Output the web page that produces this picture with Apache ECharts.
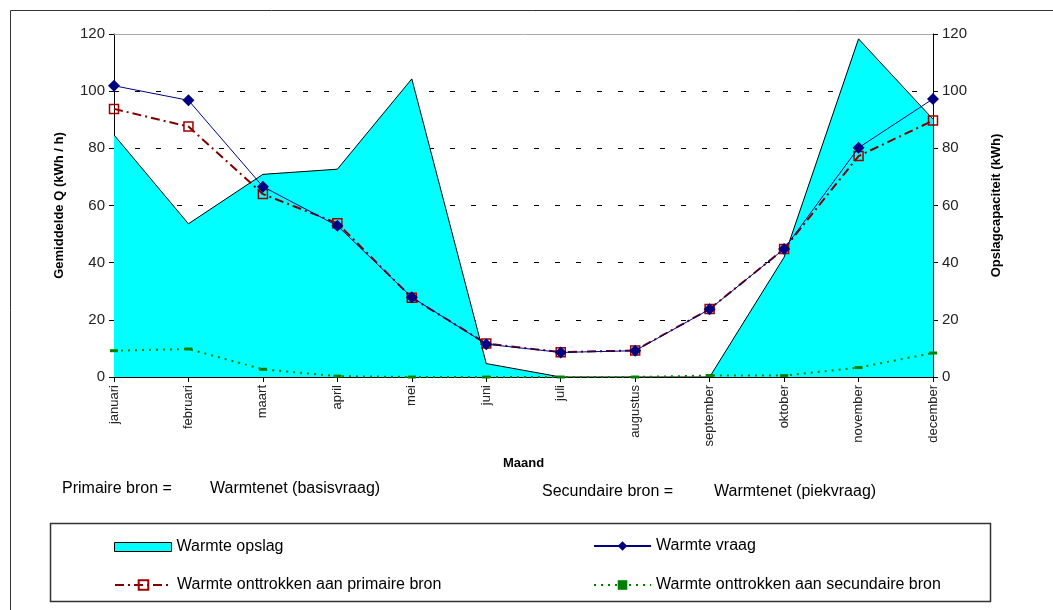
<!DOCTYPE html>
<html>
<head>
<meta charset="utf-8">
<script src="https://cdn.jsdelivr.net/npm/echarts@6/dist/echarts.min.js"></script>
<style>
  html, body { margin: 0; padding: 0; background: #fff; }
  #chart { width: 1053px; height: 610px; }
</style>
</head>
<body>
<div id="chart"></div>
<script>
// maanden op de x-as
const months = ['januari', 'februari', 'maart', 'april', 'mei', 'juni', 'juli',
  'augustus', 'september', 'oktober', 'november', 'december'];
// opslagcapaciteit (kWh), rechter as
const opslag = [84.7, 53.6, 70.9, 72.7, 104.3, 4.7, 0, 0, 0, 41.9, 118.3, 90.2];
// gemiddelde warmtevraag (kWh / h)
const vraag = [101.9, 96.8, 66.6, 52.9, 27.9, 11.5, 8.6, 9.2, 23.7, 44.8, 80.2, 97.3];
const primair = [93.8, 87.6, 64.0, 53.8, 27.7, 11.7, 8.7, 9.3, 23.8, 44.8, 77.3, 89.7];
const secundair = [9.2, 9.8, 2.7, 0.3, 0, 0, 0, 0, 0.5, 0.5, 3.3, 8.4];

const sans = '"Liberation Sans", Arial, sans-serif';

const chart = echarts.init(document.getElementById('chart'));

const valueAxis = (name, gap) => ({
  type: 'value',
  min: 0,
  max: 120,
  interval: 20,
  name: name,
  nameLocation: 'middle',
  nameGap: gap,
  nameTextStyle: { fontFamily: sans, fontWeight: 'bold', fontSize: 13, color: '#000' },
  axisLine: { show: true, lineStyle: { color: '#000', width: 1 } },
  axisTick: { show: true, length: 5, lineStyle: { color: '#000' } },
  axisLabel: { fontFamily: sans, fontSize: 15, color: '#222', margin: 9 },
  splitLine: { show: false },
});

const leftAxis = valueAxis('Gemiddelde Q (kWh / h)', 48);
leftAxis.splitLine = {
  show: true,
  lineStyle: {
    color: ['#000', '#000', '#000', '#000', '#000', '#000', '#999'],
    type: [5, 16],
    width: 1,
  },
};

const legendBase = {
  itemWidth: 57,
  itemGap: 0,
  textStyle: { fontFamily: sans, fontSize: 16, color: '#000' },
  selectedMode: false,
};

chart.setOption({
  animation: false,
  grid: { left: 114, right: 120, top: 34, bottom: 233 },
  xAxis: {
    type: 'category',
    data: months,
    boundaryGap: false,
    name: 'Maand',
    nameLocation: 'middle',
    nameGap: 80,
    nameTextStyle: { fontFamily: sans, fontWeight: 'bold', fontSize: 13, color: '#000' },
    axisLine: { lineStyle: { color: '#000', width: 1 } },
    axisTick: { show: true, length: 5, alignWithLabel: true, lineStyle: { color: '#000' } },
    axisLabel: { rotate: 90, fontFamily: sans, fontSize: 13, color: '#222', margin: 8, interval: 0 },
  },
  yAxis: [leftAxis, valueAxis('Opslagcapaciteit (kWh)', 57)],
  legend: [
    Object.assign({}, legendBase, {
      data: [{ name: 'Warmte opslag', icon: 'rect', itemStyle: { color: '#00ffff', borderColor: '#000', borderWidth: 1 } }],
      left: 109, top: 534, itemHeight: 9, itemWidth: 57,
    }),
    Object.assign({}, legendBase, { data: ['Warmte vraag'], left: 588, top: 533, itemHeight: 12 }),
    Object.assign({}, legendBase, { data: ['Warmte onttrokken aan primaire bron'], left: 109, top: 572, itemHeight: 12 }),
    Object.assign({}, legendBase, { data: ['Warmte onttrokken aan secundaire bron'], left: 588, top: 572, itemHeight: 12 }),
  ],
  graphic: [
    { type: 'rect', shape: { x: 10.5, y: 10.5, width: 1100, height: 700 }, style: { fill: 'none', stroke: '#333', lineWidth: 1 }, z: -1 },
    { type: 'rect', shape: { x: 50.5, y: 523.5, width: 940, height: 78 }, style: { fill: 'none', stroke: '#333', lineWidth: 1.5 } },
    { type: 'text', left: 62, top: 481, style: { text: 'Primaire bron =', font: '16px ' + sans, fill: '#000' } },
    { type: 'text', left: 210, top: 481, style: { text: 'Warmtenet (basisvraag)', font: '16px ' + sans, fill: '#000' } },
    { type: 'text', left: 542, top: 484, style: { text: 'Secundaire bron =', font: '16px ' + sans, fill: '#000' } },
    { type: 'text', left: 714, top: 484, style: { text: 'Warmtenet (piekvraag)', font: '16px ' + sans, fill: '#000' } },
  ],
  series: [
    {
      name: 'Warmte opslag',
      type: 'line',
      yAxisIndex: 1,
      data: opslag,
      symbol: 'none',
      lineStyle: { color: '#000', width: 1 },
      itemStyle: { color: '#00ffff', borderColor: '#000', borderWidth: 1 },
      areaStyle: { color: '#00ffff', opacity: 1 },
      markLine: {
        silent: true,
        symbol: 'none',
        label: { show: false },
        lineStyle: { color: '#aaa', type: 'solid', width: 1 },
        data: [{ yAxis: 120 }],
      },
      z: 1,
    },
    {
      name: 'Warmte onttrokken aan secundaire bron',
      type: 'line',
      data: secundair,
      symbol: 'rect',
      symbolSize: [8, 3],
      lineStyle: { color: '#008000', width: 2, type: [2, 5] },
      itemStyle: { color: '#008000' },
      z: 3,
    },
    {
      name: 'Warmte onttrokken aan primaire bron',
      type: 'line',
      data: primair,
      symbol: 'rect',
      symbolSize: 9,
      lineStyle: { color: '#800000', width: 2, type: [9, 4, 2, 4] },
      itemStyle: { color: 'rgba(0,0,0,0)', borderColor: '#a00000', borderWidth: 1.5 },
      z: 4,
    },
    {
      name: 'Warmte vraag',
      type: 'line',
      data: vraag,
      symbol: 'diamond',
      symbolSize: 12,
      lineStyle: { color: '#000080', width: 1 },
      itemStyle: { color: '#000080' },
      z: 5,
    },
  ],
});
</script>
</body>
</html>
